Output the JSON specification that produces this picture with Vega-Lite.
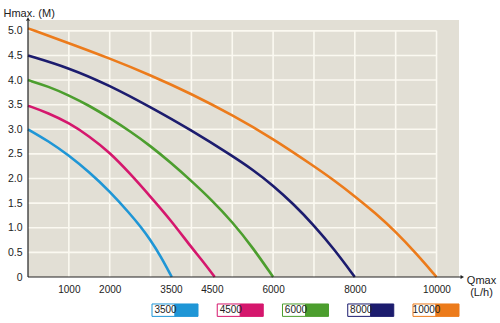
{
  "$schema": "https://vega.github.io/schema/vega-lite/v6.json",
  "width": 431,
  "height": 257,
  "autosize": {"type": "none"},
  "padding": {"left": 28, "top": 20, "right": 41, "bottom": 46},
  "background": "white",
  "config": {
    "view": {"fill": "#e2dfd5", "stroke": null},
    "font": "Liberation Sans",
    "text": {"font": "Liberation Sans"},
    "axisX": {
      "grid": false, "ticks": false, "domain": false,
      "labelFontSize": 10, "labelPadding": 7, "labelColor": "#222222", "labelFlush": false, "labelOverlap": false,
      "titleX": 453, "titleY": -3, "titleAlign": "center", "titleBaseline": "top",
      "titleFontWeight": "normal", "titleFontSize": 11, "titleLineHeight": 12, "titleColor": "#222222"
    },
    "axisY": {
      "grid": false, "ticks": false, "domain": false,
      "labelFontSize": 10.5, "labelPadding": 6, "labelColor": "#222222", "labelOverlap": false,
      "titleAngle": 0, "titleX": -25, "titleY": -4, "titleAlign": "left", "titleBaseline": "alphabetic",
      "titleFontWeight": "normal", "titleFontSize": 11, "titleColor": "#222222"
    }
  },
  "datasets": {
    "curves": [
      {"series": "3500", "Q": 0, "H": 3.0}, {"series": "3500", "Q": 500, "H": 2.76}, {"series": "3500", "Q": 1000, "H": 2.47}, {"series": "3500", "Q": 1500, "H": 2.13}, {"series": "3500", "Q": 2000, "H": 1.74}, {"series": "3500", "Q": 2500, "H": 1.28}, {"series": "3500", "Q": 2750, "H": 1.03}, {"series": "3500", "Q": 3000, "H": 0.75}, {"series": "3500", "Q": 3250, "H": 0.42}, {"series": "3500", "Q": 3520, "H": 0},
      {"series": "4500", "Q": 0, "H": 3.48}, {"series": "4500", "Q": 500, "H": 3.33}, {"series": "4500", "Q": 1000, "H": 3.13}, {"series": "4500", "Q": 1500, "H": 2.86}, {"series": "4500", "Q": 2000, "H": 2.53}, {"series": "4500", "Q": 2500, "H": 2.1}, {"series": "4500", "Q": 3000, "H": 1.63}, {"series": "4500", "Q": 3500, "H": 1.15}, {"series": "4500", "Q": 4000, "H": 0.6}, {"series": "4500", "Q": 4300, "H": 0.3}, {"series": "4500", "Q": 4570, "H": 0},
      {"series": "6000", "Q": 0, "H": 4.0}, {"series": "6000", "Q": 500, "H": 3.87}, {"series": "6000", "Q": 1000, "H": 3.69}, {"series": "6000", "Q": 1500, "H": 3.48}, {"series": "6000", "Q": 2000, "H": 3.23}, {"series": "6000", "Q": 2500, "H": 2.96}, {"series": "6000", "Q": 3000, "H": 2.66}, {"series": "6000", "Q": 3500, "H": 2.32}, {"series": "6000", "Q": 4000, "H": 1.95}, {"series": "6000", "Q": 4500, "H": 1.56}, {"series": "6000", "Q": 5000, "H": 1.12}, {"series": "6000", "Q": 5500, "H": 0.6}, {"series": "6000", "Q": 6000, "H": 0},
      {"series": "8000", "Q": 0, "H": 4.5}, {"series": "8000", "Q": 1000, "H": 4.25}, {"series": "8000", "Q": 2000, "H": 3.89}, {"series": "8000", "Q": 3000, "H": 3.45}, {"series": "8000", "Q": 4000, "H": 2.98}, {"series": "8000", "Q": 5000, "H": 2.46}, {"series": "8000", "Q": 5500, "H": 2.18}, {"series": "8000", "Q": 6000, "H": 1.86}, {"series": "8000", "Q": 6500, "H": 1.48}, {"series": "8000", "Q": 7000, "H": 1.05}, {"series": "8000", "Q": 7500, "H": 0.56}, {"series": "8000", "Q": 8000, "H": 0},
      {"series": "10000", "Q": 0, "H": 5.05}, {"series": "10000", "Q": 1000, "H": 4.75}, {"series": "10000", "Q": 2000, "H": 4.44}, {"series": "10000", "Q": 3000, "H": 4.1}, {"series": "10000", "Q": 4000, "H": 3.72}, {"series": "10000", "Q": 5000, "H": 3.29}, {"series": "10000", "Q": 6000, "H": 2.81}, {"series": "10000", "Q": 7000, "H": 2.25}, {"series": "10000", "Q": 7500, "H": 1.96}, {"series": "10000", "Q": 8000, "H": 1.64}, {"series": "10000", "Q": 8500, "H": 1.3}, {"series": "10000", "Q": 9000, "H": 0.92}, {"series": "10000", "Q": 9500, "H": 0.48}, {"series": "10000", "Q": 10000, "H": 0}
    ],
    "vgrid": [{"Q": 1000}, {"Q": 2000}, {"Q": 3000}, {"Q": 4000}, {"Q": 5000}, {"Q": 6000}, {"Q": 7000}, {"Q": 8000}, {"Q": 9000}, {"Q": 10000}],
    "hgrid": [{"H": 0.5}, {"H": 1.0}, {"H": 1.5}, {"H": 2.0}, {"H": 2.5}, {"H": 3.0}, {"H": 3.5}, {"H": 4.0}, {"H": 4.5}, {"H": 5.0}],
    "legend": [
      {"series": "3500", "part": "a"}, {"series": "3500", "part": "b"},
      {"series": "4500", "part": "a"}, {"series": "4500", "part": "b"},
      {"series": "6000", "part": "a"}, {"series": "6000", "part": "b"},
      {"series": "8000", "part": "a"}, {"series": "8000", "part": "b"},
      {"series": "10000", "part": "a"}, {"series": "10000", "part": "b"}
    ]
  },
  "layer": [
    {
      "layer": [
        {
          "data": {"name": "vgrid"},
          "mark": {"type": "rule", "color": "#fbf9f1", "strokeWidth": 1.6},
          "encoding": {
            "x": {"field": "Q", "type": "quantitative",
                  "scale": {"domain": [0, 10550], "nice": false, "zero": false},
                  "axis": {"values": [1000, 2000, 3500, 4500, 6000, 8000, 10000], "format": "d", "title": ["Qmax", "(L/h)"]}},
            "y": {"datum": 0, "type": "quantitative",
                  "scale": {"domain": [0, 5.22], "nice": false, "zero": false},
                  "axis": {"values": [0, 0.5, 1, 1.5, 2, 2.5, 3, 3.5, 4, 4.5, 5], "labelExpr": "datum.value == 0 ? '0' : format(datum.value, '.1f')", "title": "Hmax. (M)"}},
            "y2": {"datum": 5}
          }
        },
        {
          "data": {"name": "hgrid"},
          "mark": {"type": "rule", "color": "#fbf9f1", "strokeWidth": 1.6},
          "encoding": {
            "y": {"field": "H", "type": "quantitative", "axis": {"values": [0, 0.5, 1, 1.5, 2, 2.5, 3, 3.5, 4, 4.5, 5], "labelExpr": "datum.value == 0 ? '0' : format(datum.value, '.1f')", "title": "Hmax. (M)"}},
            "x": {"datum": 0, "type": "quantitative", "axis": {"values": [1000, 2000, 3500, 4500, 6000, 8000, 10000], "format": "d", "title": ["Qmax", "(L/h)"]}},
            "x2": {"datum": 10000}
          }
        },
        {
          "data": {"name": "curves"},
          "mark": {"type": "line", "strokeWidth": 2.6, "interpolate": "basis"},
          "encoding": {
            "x": {"field": "Q", "type": "quantitative", "axis": {"values": [1000, 2000, 3500, 4500, 6000, 8000, 10000], "format": "d", "title": ["Qmax", "(L/h)"]}},
            "y": {"field": "H", "type": "quantitative", "axis": {"values": [0, 0.5, 1, 1.5, 2, 2.5, 3, 3.5, 4, 4.5, 5], "labelExpr": "datum.value == 0 ? '0' : format(datum.value, '.1f')", "title": "Hmax. (M)"}},
            "color": {
              "field": "series", "type": "nominal", "legend": null,
              "scale": {"domain": ["3500", "4500", "6000", "8000", "10000"], "range": ["#1f96d6", "#d5176d", "#4c9e2e", "#1c1c6e", "#ec7b1b"]}
            },
            "detail": {"field": "series"}
          }
        },
        {
          "data": {"values": [{}]},
          "mark": {"type": "rule", "color": "#222222", "strokeWidth": 1.2},
          "encoding": {
            "y": {"datum": 0, "type": "quantitative", "axis": {"values": [0, 0.5, 1, 1.5, 2, 2.5, 3, 3.5, 4, 4.5, 5], "labelExpr": "datum.value == 0 ? '0' : format(datum.value, '.1f')", "title": "Hmax. (M)"}},
            "x": {"datum": 0, "type": "quantitative", "axis": {"values": [1000, 2000, 3500, 4500, 6000, 8000, 10000], "format": "d", "title": ["Qmax", "(L/h)"]}},
            "x2": {"datum": 10600}
          }
        },
        {
          "data": {"values": [{}]},
          "mark": {"type": "rule", "color": "#222222", "strokeWidth": 1.2},
          "encoding": {
            "x": {"datum": 0, "type": "quantitative", "axis": {"values": [1000, 2000, 3500, 4500, 6000, 8000, 10000], "format": "d", "title": ["Qmax", "(L/h)"]}},
            "y": {"datum": 0, "type": "quantitative", "axis": {"values": [0, 0.5, 1, 1.5, 2, 2.5, 3, 3.5, 4, 4.5, 5], "labelExpr": "datum.value == 0 ? '0' : format(datum.value, '.1f')", "title": "Hmax. (M)"}},
            "y2": {"datum": 5.2}
          }
        },
        {
          "data": {"values": [{}]},
          "mark": {"type": "point", "shape": "triangle-right", "filled": true, "color": "#222222", "size": 16, "opacity": 1},
          "encoding": {
            "x": {"datum": 10630, "type": "quantitative", "axis": {"values": [1000, 2000, 3500, 4500, 6000, 8000, 10000], "format": "d", "title": ["Qmax", "(L/h)"]}},
            "y": {"datum": 0, "type": "quantitative", "axis": {"values": [0, 0.5, 1, 1.5, 2, 2.5, 3, 3.5, 4, 4.5, 5], "labelExpr": "datum.value == 0 ? '0' : format(datum.value, '.1f')", "title": "Hmax. (M)"}}
          }
        },
        {
          "data": {"values": [{}]},
          "mark": {"type": "point", "shape": "triangle-up", "filled": true, "color": "#222222", "size": 16, "opacity": 1},
          "encoding": {
            "x": {"datum": 0, "type": "quantitative", "axis": {"values": [1000, 2000, 3500, 4500, 6000, 8000, 10000], "format": "d", "title": ["Qmax", "(L/h)"]}},
            "y": {"datum": 5.24, "type": "quantitative", "axis": {"values": [0, 0.5, 1, 1.5, 2, 2.5, 3, 3.5, 4, 4.5, 5], "labelExpr": "datum.value == 0 ? '0' : format(datum.value, '.1f')", "title": "Hmax. (M)"}}
          }
        }
      ]
    },
    {
      "data": {"name": "legend"},
      "layer": [
        {
          "transform": [{"filter": "datum.part == 'a'"}],
          "mark": {"type": "rect", "fill": "white", "strokeWidth": 1},
          "encoding": {
            "x": {"field": "series", "type": "nominal", "axis": null, "sort": null,
                  "scale": {"domain": ["3500", "4500", "6000", "8000", "10000"], "range": [124, 431], "paddingInner": 0.295, "paddingOuter": 0}},
            "xOffset": {"field": "part", "type": "nominal", "scale": {"domain": ["a", "b"], "paddingInner": 0, "paddingOuter": 0}},
            "y": {"datum": -0.548, "type": "quantitative", "axis": {"values": [0, 0.5, 1, 1.5, 2, 2.5, 3, 3.5, 4, 4.5, 5], "labelExpr": "datum.value == 0 ? '0' : format(datum.value, '.1f')", "title": "Hmax. (M)"}},
            "y2": {"datum": -0.8},
            "stroke": {"field": "series", "type": "nominal", "legend": null,
                       "scale": {"domain": ["3500", "4500", "6000", "8000", "10000"], "range": ["#1f96d6", "#d5176d", "#4c9e2e", "#1c1c6e", "#ec7b1b"]}}
          }
        },
        {
          "transform": [{"filter": "datum.part == 'b'"}],
          "mark": {"type": "rect", "strokeWidth": 1},
          "encoding": {
            "x": {"field": "series", "type": "nominal", "axis": null, "sort": null},
            "xOffset": {"field": "part", "type": "nominal"},
            "y": {"datum": -0.548, "type": "quantitative", "axis": {"values": [0, 0.5, 1, 1.5, 2, 2.5, 3, 3.5, 4, 4.5, 5], "labelExpr": "datum.value == 0 ? '0' : format(datum.value, '.1f')", "title": "Hmax. (M)"}},
            "y2": {"datum": -0.8},
            "color": {"field": "series", "type": "nominal", "legend": null},
            "stroke": {"field": "series", "type": "nominal", "legend": null}
          }
        },
        {
          "transform": [{"filter": "datum.part == 'a'"}],
          "mark": {"type": "text", "fontSize": 10, "color": "#222222", "align": "center", "baseline": "middle", "dx": 2},
          "encoding": {
            "x": {"field": "series", "type": "nominal", "axis": null, "sort": null},
            "xOffset": {"field": "part", "type": "nominal"},
            "y": {"datum": -0.675, "type": "quantitative", "axis": {"values": [0, 0.5, 1, 1.5, 2, 2.5, 3, 3.5, 4, 4.5, 5], "labelExpr": "datum.value == 0 ? '0' : format(datum.value, '.1f')", "title": "Hmax. (M)"}},
            "text": {"field": "series"}
          }
        }
      ]
    }
  ],
  "resolve": {"scale": {"x": "independent"}}
}
